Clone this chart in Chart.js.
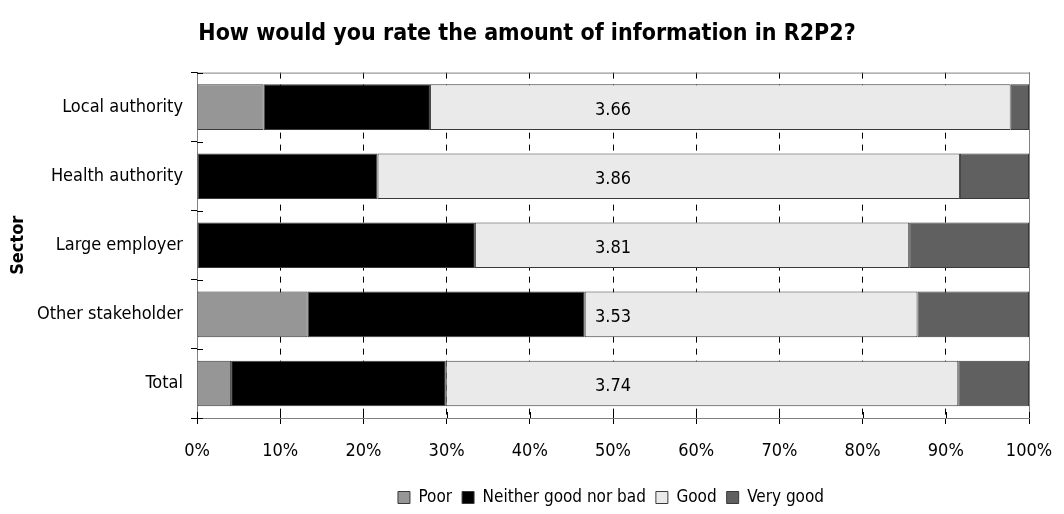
<!DOCTYPE html>
<html>
<head>
<meta charset="utf-8">
<script src="https://cdn.jsdelivr.net/npm/chart.js@4.4.0/dist/chart.umd.min.js"></script>
<style>
    body { margin: 0; background: #fff; }
    #wrap { width: 1064px; height: 514px; }
</style>
</head>
<body>
<div id="wrap"><canvas id="rating-chart" width="1064" height="514"></canvas></div>
<script>
var sectors = ['Local authority', 'Health authority', 'Large employer', 'Other stakeholder', 'Total'];
var poor = [8.0, null, null, 13.3, 4.1];
var neither = [20.0, 21.7, 33.4, 33.3, 25.8];
var good = [69.8, 70.0, 52.2, 40.0, 61.6];
var veryGood = [2.2, 8.3, 14.4, 13.4, 8.5];
var means = ['3.66', '3.86', '3.81', '3.53', '3.74'];
var xTicks = [0, 10, 20, 30, 40, 50, 60, 70, 80, 90, 100];

var FONT = "'DejaVu Sans Condensed', 'DejaVu Sans', sans-serif";

// grey frame round the plot area, drawn before the axes
var plotFrame = {
    id: 'plotFrame',
    beforeDatasetsDraw: function(chart) {
        var a = chart.chartArea, ctx = chart.ctx;
        ctx.save();
        ctx.strokeStyle = '#808080';
        ctx.lineWidth = 1;
        ctx.strokeRect(a.left + 0.5, a.top + 0.5, a.right - a.left, a.bottom - a.top);
        ctx.restore();
    }
};

// mean score in the middle of each bar, plus the inner half of the axis ticks
var meanLabels = {
    id: 'meanLabels',
    afterDatasetsDraw: function(chart) {
        var ctx = chart.ctx, xs = chart.scales.x, ys = chart.scales.y, a = chart.chartArea;
        var x = xs.getPixelForValue(50);
        ctx.save();
        ctx.font = '18px ' + FONT;
        ctx.fillStyle = '#000';
        ctx.textAlign = 'center';
        ctx.textBaseline = 'middle';
        means.forEach(function(m, i) {
            ctx.fillText(m, x, ys.getPixelForValue(i) + 3);
        });
        ctx.strokeStyle = '#000';
        ctx.lineWidth = 1;
        ctx.beginPath();
        xTicks.forEach(function(v) {
            var px = Math.round(xs.getPixelForValue(v)) + 0.5;
            ctx.moveTo(px, a.bottom);
            ctx.lineTo(px, a.bottom - 6);
        });
        for (var i = 0; i <= sectors.length; i++) {
            var py = Math.round(ys.getPixelForValue(i - 0.5)) + 0.5;
            ctx.moveTo(a.left, py);
            ctx.lineTo(a.left + 6, py);
        }
        ctx.stroke();
        ctx.restore();
    }
};

// title position as in the original, legend under the plot area and a bit lower
var boxShift = {
    id: 'boxShift',
    afterLayout: function(chart) {
        var lg = chart.legend, tb = chart.titleBlock, a = chart.chartArea;
        var tx = 527 - (tb.left + tb.right) / 2;
        tb.left += tx;
        tb.right += tx;
        var dx = (a.left + a.right) / 2 - 2 - (lg.left + lg.right) / 2;
        var dy = 479 - lg.top;
        lg.left += dx;
        lg.right += dx;
        lg.top += dy;
        lg.bottom += dy;
    }
};

function makeSet(label, data, color) {
    return {
        label: label,
        data: data,
        backgroundColor: color,
        borderColor: '#3a3a3a',
        borderWidth: 1,
        borderSkipped: false,
        barPercentage: 0.66,
        categoryPercentage: 1
    };
}

var ctx = document.getElementById('rating-chart').getContext('2d');
new Chart(ctx, {
    type: 'bar',
    data: {
        labels: sectors,
        datasets: [
            makeSet('Poor', poor, '#969696'),
            makeSet('Neither good nor bad', neither, '#000000'),
            makeSet('Good', good, '#eaeaea'),
            makeSet('Very good', veryGood, '#606060')
        ]
    },
    plugins: [plotFrame, meanLabels, boxShift],
    options: {
        indexAxis: 'y',
        responsive: false,
        animation: false,
        layout: { padding: { top: 14, right: 35, left: 8, bottom: 0 } },
        scales: {
            x: {
                stacked: true,
                min: 0,
                max: 100,
                afterBuildTicks: function(scale) {
                    scale.ticks = xTicks.map(function(v) { return { value: v }; });
                },
                afterFit: function(scale) {
                    scale.height = 59;
                    scale.paddingRight = 0;
                    scale.paddingLeft = 0;
                },
                grid: {
                    color: '#000',
                    tickLength: 6,
                    drawTicks: true
                },
                border: { color: '#000', width: 1, dash: [6, 6] },
                ticks: {
                    color: '#000',
                    padding: 17,
                    font: { family: FONT, size: 18 },
                    callback: function(v) { return v + '%'; }
                }
            },
            y: {
                stacked: true,
                afterFit: function(scale) { scale.width = 189; },
                grid: {
                    offset: true,
                    drawOnChartArea: false,
                    color: '#000',
                    tickLength: 6
                },
                border: { color: '#000', width: 1 },
                ticks: {
                    color: '#000',
                    padding: 8,
                    font: { family: FONT, size: 18 }
                },
                title: {
                    display: true,
                    text: 'Sector',
                    color: '#000',
                    font: { family: FONT, size: 18, weight: 'bold' },
                    padding: { top: 0, bottom: 4 }
                }
            }
        },
        plugins: {
            title: {
                display: true,
                text: 'How would you rate the amount of information in R2P2?',
                color: '#000',
                font: { family: FONT, size: 23, weight: 'bold' },
                padding: { top: 6, bottom: 25 }
            },
            legend: {
                position: 'bottom',
                labels: {
                    color: '#000',
                    boxWidth: 12,
                    boxHeight: 12,
                    padding: 10,
                    font: { family: FONT, size: 17 }
                }
            },
            tooltip: { enabled: false }
        }
    }
});
</script>
</body>
</html>
